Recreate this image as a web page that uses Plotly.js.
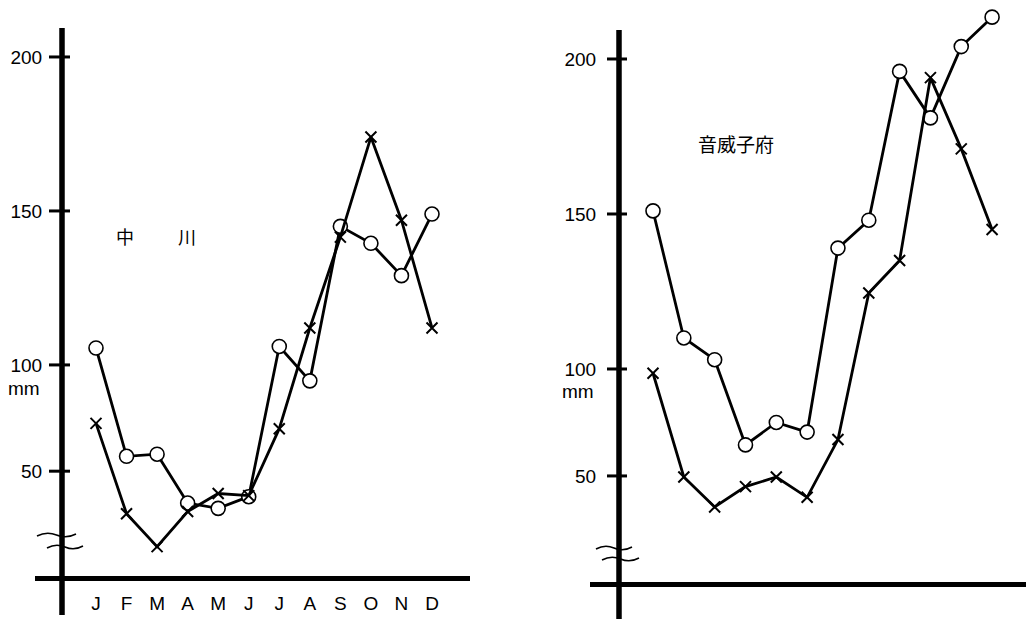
<!DOCTYPE html>
<html>
<head>
<meta charset="utf-8">
<script src="https://cdn.plot.ly/plotly-3.0.1.min.js"></script>
<style>html,body{margin:0;padding:0;background:#fff;}#chart{width:1026px;height:619px;}</style>
</head>
<body>
<div id="chart"></div>
<script>
// Monthly values (mm)
const months = ['J','F','M','A','M','J','J','A','S','O','N','D'];
const monthIndex = [1,2,3,4,5,6,7,8,9,10,11,12];
const nakagawaCircle = [105.5, 57, 58, 35, 32.5, 38, 106, 92.5, 145, 139.5, 129, 149];
const nakagawaCross  = [72.5, 30, 14.5, 31, 39.5, 38.5, 70, 112, 141.5, 174, 147, 112];
const otoineppuCircle = [151, 110, 103, 64.5, 75, 70.5, 139, 148, 196, 181, 204, 213.5];
const otoineppuCross  = [98, 49.5, 35.5, 45, 49.5, 40, 67, 124.5, 135, 194, 171, 145];
const yTickValues = [50, 100, 150, 200];
const leftTitle1 = '中';
const leftTitle2 = '川';
const rightTitle = '音威子府';

// The original axis is compressed below 100 mm (broken axis)
const K = 0.69;
function scaleY(v){ return v >= 100 ? v : 100 - (100 - v) * K; }

const W = 1026, H = 619;
const px = x => x / W;
const py = y => (H - y) / H;

const circleStyle = {symbol:'circle', size:14, color:'#fff', line:{color:'#000', width:1.6}};
const crossStyle = {symbol:'x-thin', size:11, color:'#000', line:{color:'#000', width:2}};

const traces = [
  {x: monthIndex, y: nakagawaCircle.map(scaleY), xaxis:'x', yaxis:'y', mode:'lines+markers',
   line:{color:'#000', width:2.8}, marker:circleStyle, cliponaxis:false, name:'中川 ○'},
  {x: monthIndex, y: nakagawaCross.map(scaleY), xaxis:'x', yaxis:'y', mode:'lines+markers',
   line:{color:'#000', width:2.8}, marker:crossStyle, cliponaxis:false, name:'中川 ×'},
  {x: monthIndex, y: otoineppuCircle.map(scaleY), xaxis:'x2', yaxis:'y2', mode:'lines+markers',
   line:{color:'#000', width:2.8}, marker:circleStyle, cliponaxis:false, name:'音威子府 ○'},
  {x: monthIndex, y: otoineppuCross.map(scaleY), xaxis:'x2', yaxis:'y2', mode:'lines+markers',
   line:{color:'#000', width:2.8}, marker:crossStyle, cliponaxis:false, name:'音威子府 ×'}
];

const tickFont = {family:'Liberation Sans, Arial, sans-serif', size:19, color:'#000'};
const common = {showgrid:false, zeroline:false, linecolor:'#000', linewidth:5, fixedrange:true};

const layout = {
  width: W, height: H,
  margin:{l:0, r:0, t:0, b:0},
  paper_bgcolor:'#fff', plot_bgcolor:'rgba(0,0,0,0)',
  showlegend:false,
  xaxis: Object.assign({}, common, {
    showline:true,
    domain:[px(35), px(470)], range:[-0.997, 13.244], anchor:'free', position: py(578),
    tickmode:'array', tickvals: monthIndex, ticktext: months,
    ticks:'outside', ticklen:6, tickcolor:'rgba(0,0,0,0)', tickfont: tickFont
  }),
  yaxis: Object.assign({}, common, {
    showline:false,
    domain:[py(615), 1], range:[18.8, 218.5], anchor:'free', position: px(62),
    tickmode:'array', tickvals: yTickValues.map(scaleY), ticktext: yTickValues.map(String),
    ticks:'outside', ticklen:16, tickcolor:'rgba(0,0,0,0)', tickfont: tickFont
  }),
  xaxis2: Object.assign({}, common, {
    showline:true,
    domain:[px(590), 1], range:[-1.044, 13.10], anchor:'free', position: py(584),
    showticklabels:false, ticks:''
  }),
  yaxis2: Object.assign({}, common, {
    showline:false,
    domain:[0, 1], range:[19.35, 219.03], anchor:'free', position: px(619),
    tickmode:'array', tickvals: yTickValues.map(scaleY), ticktext: yTickValues.map(String),
    ticks:'outside', ticklen:19, tickcolor:'rgba(0,0,0,0)', tickfont: tickFont
  }),
  annotations: [
    {xref:'paper', yref:'paper', x:px(24), y:py(388), xanchor:'center', yanchor:'middle', text:'mm', showarrow:false, font:tickFont},
    {xref:'paper', yref:'paper', x:px(578), y:py(391), xanchor:'center', yanchor:'middle', text:'mm', showarrow:false, font:tickFont},
    {xref:'paper', yref:'paper', x:px(125), y:py(236), xanchor:'center', yanchor:'middle', text:leftTitle1, showarrow:false,
     font:{family:'Noto Sans CJK JP, sans-serif', size:18, color:'#000'}},
    {xref:'paper', yref:'paper', x:px(187), y:py(236), xanchor:'center', yanchor:'middle', text:leftTitle2, showarrow:false,
     font:{family:'Noto Sans CJK JP, sans-serif', size:18, color:'#000'}},
    {xref:'paper', yref:'paper', x:px(736), y:py(143), xanchor:'center', yanchor:'middle', text:rightTitle, showarrow:false,
     font:{family:'Noto Sans CJK JP, sans-serif', size:19, color:'#000'}}
  ],
  shapes: []
};

// vertical axis lines (extend below the horizontal axis, as in the original)
layout.shapes.push(
  {type:'line', xref:'paper', yref:'paper', x0:px(62), x1:px(62), y0:py(615), y1:py(28), line:{color:'#000', width:5.5}},
  {type:'line', xref:'paper', yref:'paper', x0:px(619), x1:px(619), y0:py(619), y1:py(30), line:{color:'#000', width:5.5}}
);
// tick marks crossing the vertical axes
yTickValues.forEach(v => {
  layout.shapes.push({type:'line', xref:'paper', yref:'y', x0:px(49), x1:px(70), y0:scaleY(v), y1:scaleY(v), line:{color:'#000', width:3}});
  layout.shapes.push({type:'line', xref:'paper', yref:'y2', x0:px(607), x1:px(627), y0:scaleY(v), y1:scaleY(v), line:{color:'#000', width:3}});
});

// axis-break squiggles
function squiggle(x0, x1, y){
  const w = x1 - x0;
  const p = [[x0, y+1], [x0 + w*0.25, y-4], [x0 + w*0.5, y], [x0 + w*0.75, y+4], [x1, y-1]];
  let d = 'M' + px(p[0][0]) + ',' + py(p[0][1]) +
          ' Q' + px(p[1][0]) + ',' + py(p[1][1]) + ' ' + px(p[2][0]) + ',' + py(p[2][1]) +
          ' Q' + px(p[3][0]) + ',' + py(p[3][1]) + ' ' + px(p[4][0]) + ',' + py(p[4][1]);
  return {type:'path', xref:'paper', yref:'paper', path:d, line:{color:'#000', width:1.5}};
}
layout.shapes.push(squiggle(37, 76, 535), squiggle(47, 83, 547), squiggle(596, 632, 548), squiggle(602, 639, 559));

Plotly.newPlot('chart', traces, layout, {displayModeBar:false, staticPlot:true});
</script>
</body>
</html>
